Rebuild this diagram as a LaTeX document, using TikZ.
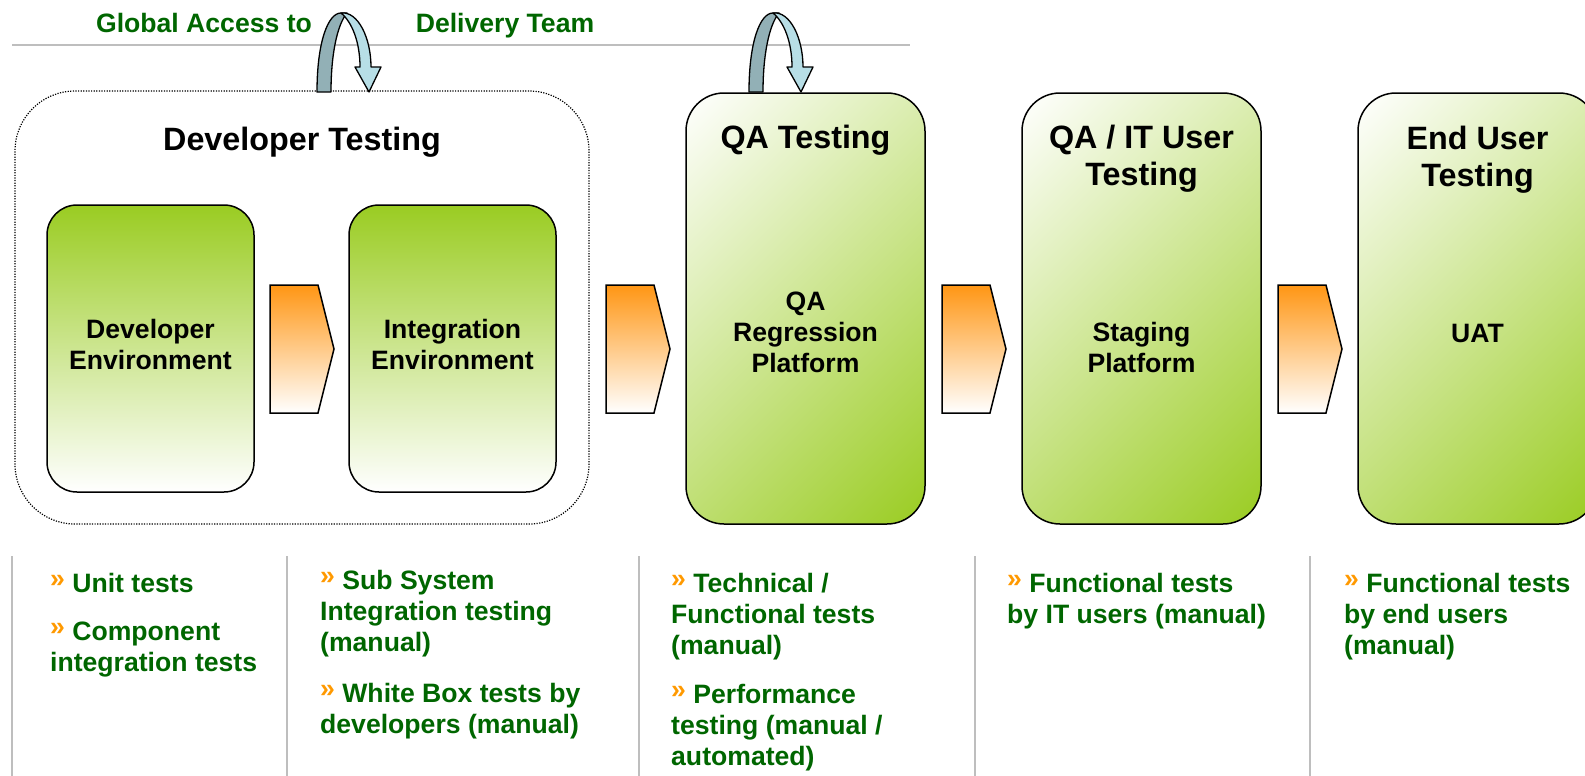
\documentclass[tikz,border=0pt]{standalone}
\usepackage{fontspec}
\setmainfont{Liberation Sans}
\definecolor{boxgreen}{RGB}{154,204,34}
\definecolor{txtgreen}{RGB}{0,102,0}
\definecolor{chevorange}{RGB}{255,150,20}
\definecolor{bulorange}{RGB}{255,153,0}
\definecolor{ribbondark}{RGB}{146,176,182}
\definecolor{ribbonlight}{RGB}{183,222,230}
\definecolor{rulegray}{RGB}{190,190,190}
\pgfdeclareverticalshading{diaggreen}{100bp}{color(0bp)=(boxgreen); color(14.6bp)=(boxgreen); color(85.4bp)=(white); color(100bp)=(white)}
\newcommand\mybul{{\color{bulorange}\raisebox{5pt}{»}}\ }
\begin{document}
\begin{tikzpicture}[x=1pt,y=-1pt,
  bigbox/.style={draw=black, line width=1.5pt, rounded corners=38pt,
    minimum width=239pt, minimum height=431pt, inner sep=0pt,
    shade, shading=diaggreen, shading angle=45},
  smallbox/.style={draw=black, line width=1.5pt, rounded corners=30pt,
    minimum width=207pt, minimum height=287pt, inner sep=0pt,
    top color=boxgreen, bottom color=white},
  groupbox/.style={draw=black, line width=1.2pt, dash pattern=on 1.2pt off 1.4pt,
    rounded corners=60pt, minimum width=574pt, minimum height=433pt, inner sep=0pt},
  chev/.style={draw=black, line width=1.5pt, top color=chevorange, bottom color=white},
  ribdark/.style={draw=black, line width=1.3pt, fill=ribbondark, line join=round},
  riblight/.style={draw=black, line width=1.3pt, fill=ribbonlight, line join=round},
  titletext/.style={font=\fontsize{32.3}{37}\selectfont\bfseries, inner sep=0pt, anchor=base},
  bodytext/.style={font=\fontsize{26.6}{31}\selectfont\bfseries, inner sep=0pt, anchor=base},
  toptext/.style={font=\fontsize{26.6}{31}\selectfont\bfseries, text=txtgreen, inner sep=0pt, anchor=base},
  bultext/.style={font=\fontsize{26.6}{31}\selectfont\bfseries, text=txtgreen, inner sep=0pt, anchor=base west},
  sepline/.style={draw=rulegray, line width=2pt}
]
\useasboundingbox (0,0) rectangle (1585,776);

% top rule and labels
\coordinate (ruleL) at (12,45);
\coordinate (ruleR) at (910,45);
\draw[sepline] (ruleL) -- (ruleR);
\node[toptext] (ga) at (204,33) {Global Access to};
\node[toptext] (dt) at (505,33) {Delivery Team};

% developer testing group
\node[groupbox] (grp) at (302,307.5) {};
\node[titletext] (grpT) at (302,150) {Developer Testing};

\node[smallbox] (devenv) at (150.5,348.5) {};
\node[bodytext] (devenv1) at (150.5,338) {Developer};
\node[bodytext] (devenv2) at (150.5,369) {Environment};

\node[smallbox] (intenv) at (452.5,348.5) {};
\node[bodytext] (intenv1) at (452.5,338) {Integration};
\node[bodytext] (intenv2) at (452.5,369) {Environment};

% big boxes
\node[bigbox] (qa) at (805.5,308.5) {};
\node[titletext] (qaT) at (805.5,148) {QA Testing};
\node[bodytext] (qa1) at (805.5,310) {QA};
\node[bodytext] (qa2) at (805.5,341) {Regression};
\node[bodytext] (qa3) at (805.5,372) {Platform};

\node[bigbox] (st) at (1141.5,308.5) {};
\node[titletext] (stT1) at (1141.5,148) {QA / IT User};
\node[titletext] (stT2) at (1141.5,185) {Testing};
\node[bodytext] (st1) at (1141.5,341) {Staging};
\node[bodytext] (st2) at (1141.5,372) {Platform};

\node[bigbox] (eu) at (1477.5,308.5) {};
\node[titletext] (euT1) at (1477.5,149) {End User};
\node[titletext] (euT2) at (1477.5,186) {Testing};
\node[bodytext] (eu1) at (1477.5,342) {UAT};

% chevrons
\foreach \cx/\nm in {270/chA, 606/chB, 942/chC, 1278/chD}{
  \coordinate (\nm) at (\cx,285);
  \path[chev] (\nm) -- ++(48,0) -- ++(16,64) -- ++(-16,64) -- ++(-48,0) -- cycle;
}

% u-turn ribbon arrows
\foreach \dx/\nm in {0/rA, 432/rB}{
  \begin{scope}[shift={(\dx,0)}]
    \coordinate (\nm) at (317,92);
    \path[ribdark] (\nm) .. controls (317,42) and (328,13) .. (341,13) -- (347,13)
      .. controls (337,25) and (331,55) .. (331,92) -- cycle;
    \path[riblight] (341,13) .. controls (358,11) and (371,38) .. (371,67) -- (381,67)
      -- (369,92) -- (355,67) -- (360,67) .. controls (360,42) and (352,22) .. (341,13) -- cycle;
  \end{scope}
}

% column separators
\foreach \lx/\nm in {12/sA, 287/sB, 639/sC, 975/sD, 1310/sE}{
  \coordinate (\nm t) at (\lx,556);
  \coordinate (\nm b) at (\lx,776);
  \draw[sepline] (\nm t) -- (\nm b);
}

% column 1
\node[bultext] (c1a) at (50,592) {\mybul Unit tests};
\node[bultext] (c1b) at (50,640) {\mybul Component};
\node[bultext] (c1c) at (50,671) {integration tests};
% column 2
\node[bultext] (c2a) at (320,589) {\mybul Sub System};
\node[bultext] (c2b) at (320,620) {Integration testing};
\node[bultext] (c2c) at (320,651) {(manual)};
\node[bultext] (c2d) at (320,702) {\mybul White Box tests by};
\node[bultext] (c2e) at (320,733) {developers (manual)};
% column 3
\node[bultext] (c3a) at (671,592) {\mybul Technical /};
\node[bultext] (c3b) at (671,623) {Functional tests};
\node[bultext] (c3c) at (671,654) {(manual)};
\node[bultext] (c3d) at (671,703) {\mybul Performance};
\node[bultext] (c3e) at (671,734) {testing (manual /};
\node[bultext] (c3f) at (671,765) {automated)};
% column 4
\node[bultext] (c4a) at (1007,592) {\mybul Functional tests};
\node[bultext] (c4b) at (1007,623) {by IT users (manual)};
% column 5
\node[bultext] (c5a) at (1344,592) {\mybul Functional tests};
\node[bultext] (c5b) at (1344,623) {by end users};
\node[bultext] (c5c) at (1344,654) {(manual)};
\end{tikzpicture}
\end{document}
